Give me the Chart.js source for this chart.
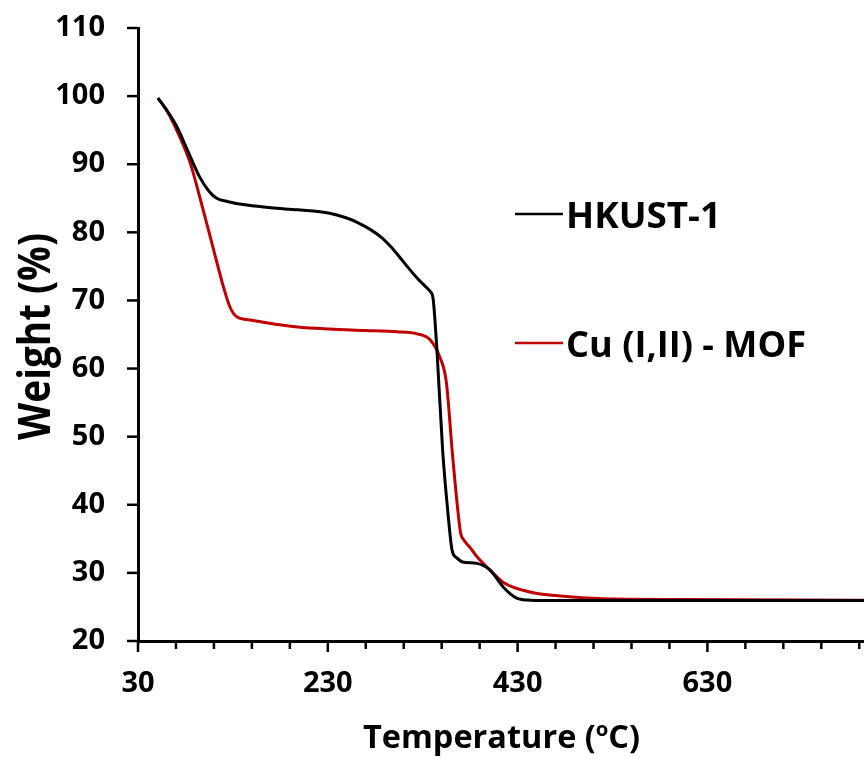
<!DOCTYPE html>
<html>
<head>
<meta charset="utf-8">
<script src="https://cdn.jsdelivr.net/npm/chart.js@4.4.1/dist/chart.umd.min.js"></script>
<style>
  html, body { margin: 0; padding: 0; background: #fff; }
  #wrap { position: relative; width: 864px; height: 758px; }
</style>
</head>
<body>
<div id="wrap"><canvas id="tgaChart" width="864" height="758"></canvas></div>
<script>
// HKUST-1 (black)
const hkustTemp   = [51, 60, 71, 82, 95, 105, 113, 125, 145, 170, 198, 232, 250, 262, 275, 287, 297, 306, 316, 326, 334, 338, 341, 345, 351, 357, 361, 366, 372, 387, 401, 415, 429, 443, 480, 600, 795];
const hkustWeight = [99.7, 98.0, 95.5, 92.1, 88.1, 86.0, 85.0, 84.5, 84.0, 83.6, 83.3, 82.8, 82.1, 81.4, 80.4, 79.2, 77.8, 76.3, 74.6, 73.0, 71.9, 71.3, 70.2, 62.7, 48.0, 38.2, 33.3, 32.2, 31.6, 31.4, 30.4, 27.9, 26.3, 26.0, 25.95, 25.95, 25.95];

// Cu (I,II) - MOF (red)
const mofTemp   = [51, 62, 74, 85, 95, 109, 120, 127, 134, 150, 162, 198, 232, 270, 303, 324, 338, 348, 355, 361, 367, 370, 373, 380, 387, 401, 415, 443, 475, 520, 600, 795];
const mofWeight = [99.7, 97.5, 94.0, 90.2, 85.2, 77.8, 72.0, 69.0, 67.6, 67.1, 66.8, 66.1, 65.8, 65.6, 65.4, 65.1, 64.2, 61.7, 57.9, 48.0, 39.2, 35.8, 34.9, 33.7, 32.4, 30.4, 28.6, 27.2, 26.6, 26.2, 26.1, 26.0];

const seriesNames = ["HKUST-1", "Cu (I,II) - MOF"];
const seriesColors = ["#000000", "#c00000"];

const xMin = 30, xMax = 795, xStep = 40, xLabelStep = 200;
const yMin = 20, yMax = 110, yStep = 10;

const FONT = "'Open Sans', Lato, sans-serif";

function toPoints(xs, ys) {
  return xs.map((x, i) => ({ x: x, y: ys[i] }));
}

// draw text squeezed/stretched along its run so it spans `w` px
function fitText(ctx, text, x, y, w) {
  const nat = ctx.measureText(text).width;
  ctx.save();
  ctx.translate(x, y);
  ctx.scale(w / nat, 1);
  ctx.fillText(text, 0, 0);
  ctx.restore();
}

// tick marks drawn off the library's scales, longer on labelled ticks
const tickMarks = {
  id: "tickMarks",
  afterDraw(chart) {
    const ctx = chart.ctx;
    const xs = chart.scales.x;
    const ys = chart.scales.y;
    ctx.save();
    ctx.strokeStyle = "#000";
    ctx.lineWidth = 2.5;
    xs.ticks.forEach(t => {
      const px = xs.getPixelForValue(t.value);
      const major = (t.value - xMin) % xLabelStep === 0;
      ctx.beginPath();
      ctx.moveTo(px, xs.top);
      ctx.lineTo(px, xs.top + (major ? 11 : 8));
      ctx.stroke();
    });
    ys.ticks.forEach(t => {
      const py = ys.getPixelForValue(t.value);
      ctx.beginPath();
      ctx.moveTo(ys.right, py);
      ctx.lineTo(ys.right - 11, py);
      ctx.stroke();
    });
    ctx.restore();
  }
};

// axis titles and inline legend
const labels = {
  id: "labels",
  afterDraw(chart) {
    const ctx = chart.ctx;
    ctx.save();
    ctx.fillStyle = "#000";
    ctx.textAlign = "left";
    ctx.textBaseline = "alphabetic";

    // y title, reads bottom to top
    ctx.save();
    ctx.translate(50, 440);
    ctx.rotate(-Math.PI / 2);
    ctx.font = "bold 44px " + FONT;
    fitText(ctx, "Weight (%)", 0, 0, 207);
    ctx.restore();

    // x title with superscript o
    const partA = "Temperature (", partB = "o", partC = "C)";
    ctx.font = "bold 32px " + FONT;
    const wA = ctx.measureText(partA).width;
    const wC = ctx.measureText(partC).width;
    ctx.font = "bold 20px " + FONT;
    const wB = ctx.measureText(partB).width;
    const k = 277 / (wA + wB + wC);
    ctx.save();
    ctx.translate(363, 748);
    ctx.scale(k, 1);
    ctx.font = "bold 32px " + FONT;
    ctx.fillText(partA, 0, 0);
    ctx.font = "bold 20px " + FONT;
    ctx.fillText(partB, wA, -12);
    ctx.font = "bold 32px " + FONT;
    ctx.fillText(partC, wA + wB, 0);
    ctx.restore();

    // legend
    const legendBase = [228, 357];
    const legendW = [155, 240];
    ctx.font = "bold 35px " + FONT;
    seriesNames.forEach((name, i) => {
      ctx.strokeStyle = seriesColors[i];
      ctx.lineWidth = 2.5;
      ctx.beginPath();
      ctx.moveTo(515, legendBase[i] - 14);
      ctx.lineTo(563, legendBase[i] - 14);
      ctx.stroke();
      fitText(ctx, name, 566, legendBase[i], legendW[i]);
    });
    ctx.restore();
  }
};

new Chart(document.getElementById("tgaChart"), {
  type: "scatter",
  data: {
    datasets: [
      {
        label: seriesNames[0],
        data: toPoints(hkustTemp, hkustWeight),
        showLine: true,
        borderColor: seriesColors[0],
        borderWidth: 3,
        pointRadius: 0,
        cubicInterpolationMode: "monotone"
      },
      {
        label: seriesNames[1],
        data: toPoints(mofTemp, mofWeight),
        showLine: true,
        borderColor: seriesColors[1],
        borderWidth: 3,
        pointRadius: 0,
        cubicInterpolationMode: "monotone"
      }
    ]
  },
  options: {
    responsive: false,
    animation: false,
    layout: { padding: { top: 28, right: 0, left: 0, bottom: 0 } },
    plugins: {
      legend: { display: false },
      tooltip: { enabled: false }
    },
    scales: {
      x: {
        type: "linear",
        min: xMin,
        max: xMax,
        grid: { display: false, drawTicks: false },
        border: { display: true, color: "#000", width: 3 },
        afterFit: s => {
          s.height = 117;
          s.paddingLeft = 0;
          s.paddingRight = 0;
        },
        afterBuildTicks: s => {
          const t = [];
          for (let v = xMin; v <= xMax; v += xStep) t.push({ value: v });
          s.ticks = t;
        },
        ticks: {
          autoSkip: false,
          maxRotation: 0,
          padding: 25,
          color: "#000",
          font: { family: FONT, size: 29, weight: "bold" },
          callback: v => ((v - xMin) % xLabelStep === 0 ? String(v) : "")
        }
      },
      y: {
        min: yMin,
        max: yMax,
        grid: { display: false, drawTicks: false },
        border: { display: true, color: "#000", width: 3 },
        afterFit: s => {
          s.width = 138;
          s.paddingTop = 0;
          s.paddingBottom = 0;
        },
        ticks: {
          stepSize: yStep,
          padding: 33,
          color: "#000",
          font: { family: FONT, size: 29, weight: "bold" }
        }
      }
    }
  },
  plugins: [tickMarks, labels]
});
</script>
</body>
</html>
